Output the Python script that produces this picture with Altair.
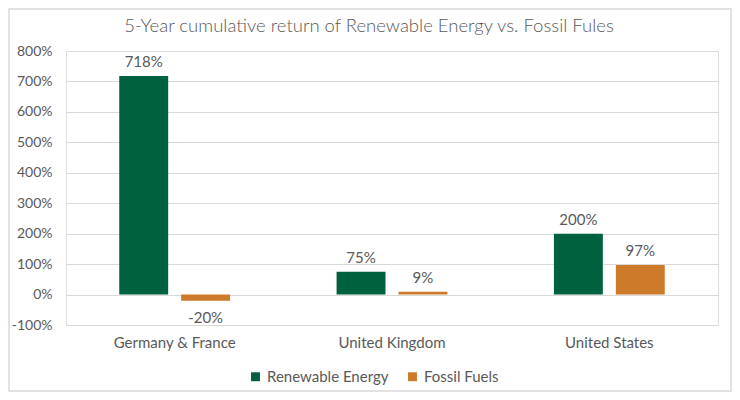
import altair as alt
import pandas as pd

title_text = "5-Year cumulative return of Renewable Energy vs. Fossil Fules"
regions = ["Germany & France", "United Kingdom", "United States"]
series = ["Renewable Energy", "Fossil Fuels"]
renewable = [718, 75, 200]
fossil = [-20, 9, 97]
colors = ["#00613F", "#CD7B2A"]
y_ticks = [-100, 0, 100, 200, 300, 400, 500, 600, 700, 800]

rows = []
for i, r in enumerate(regions):
    rows.append({"region": r, "series": series[0], "value": renewable[i]})
    rows.append({"region": r, "series": series[1], "value": fossil[i]})
df = pd.DataFrame(rows)
df["label"] = df["value"].astype(int).astype(str) + "%"

FONT = "Lato"
GREY = "#595959"

x = alt.X("region:N", sort=regions, title=None,
          scale=alt.Scale(paddingInner=0.49, paddingOuter=0.245),
          axis=alt.Axis(labelAngle=0, domain=False, ticks=False, labelPadding=10,
                        labelFontSize=15, labelColor=GREY, labelFont=FONT))
xo = alt.XOffset("series:N", sort=series,
                 scale=alt.Scale(paddingInner=0.21, paddingOuter=0))
y = alt.Y("value:Q", title=None,
          scale=alt.Scale(domain=[-100, 800], nice=False),
          axis=alt.Axis(values=y_ticks, labelExpr="datum.value + '%'", domain=False,
                        ticks=False, labelPadding=14, gridColor="#D9D9D9",
                        labelFontSize=14, labelColor=GREY, labelFont=FONT))
color = alt.Color("series:N", sort=series,
                  scale=alt.Scale(domain=series, range=colors),
                  legend=alt.Legend(title=None, orient="none", direction="horizontal",
                                    legendX=182, legendY=318, symbolType="square",
                                    symbolSize=80, symbolStrokeWidth=0, labelFontSize=15,
                                    labelColor=GREY, labelFont=FONT, columnPadding=16,
                                    labelOffset=4))

base = alt.Chart(df)
bars = base.mark_bar().encode(x=x, xOffset=xo, y=y, color=color)
pos_text = base.transform_filter("datum.value >= 0").mark_text(
    baseline="bottom", dy=-6, fontSize=15, color=GREY, font=FONT
).encode(x=x, xOffset=xo, y=y, text="label:N")
neg_text = base.transform_filter("datum.value < 0").mark_text(
    baseline="top", dy=10, fontSize=15, color=GREY, font=FONT
).encode(x=x, xOffset=xo, y=y, text="label:N")

border = alt.Chart(pd.DataFrame({"a": [0]})).mark_rect(
    fill=None, stroke="#D9D9D9", strokeWidth=1.5
).encode(x=alt.value(-57), x2=alt.value(665), y=alt.value(-42), y2=alt.value(340))

title = alt.Chart(pd.DataFrame({"t": [title_text]})).mark_text(
    fontSize=18.5, font=FONT, fontWeight=300, color=GREY, align="center", baseline="middle"
).encode(x=alt.value(303), y=alt.value(-25), text="t:N")

chart = alt.layer(border, title, bars, pos_text, neg_text).properties(
    width=652, height=274,
    autosize=alt.AutoSizeParams(type="none"),
    padding={"left": 58, "top": 43, "right": 14, "bottom": 67},
).configure_view(stroke=None).configure(background="white")

chart.save("out.html", embed_options={"renderer": "svg", "actions": False})
